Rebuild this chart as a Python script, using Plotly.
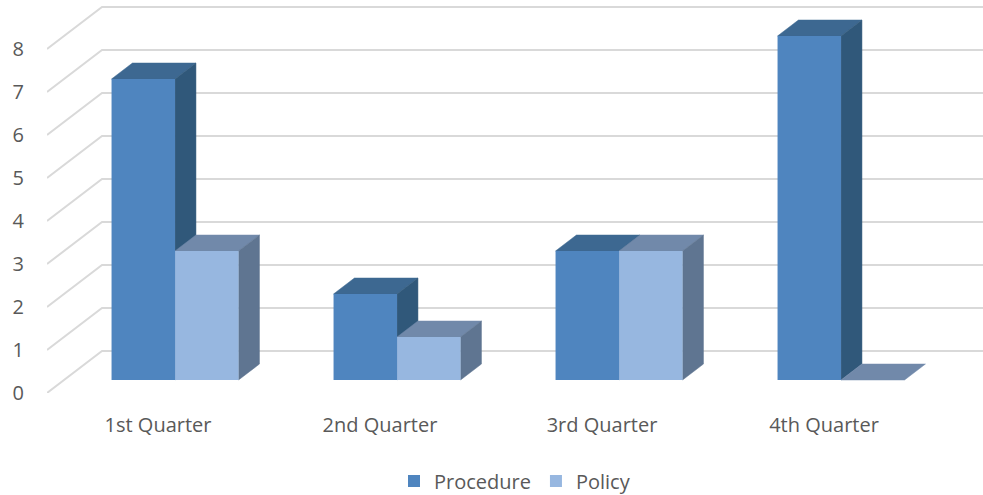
import plotly.graph_objects as go

categories = ["1st Quarter", "2nd Quarter", "3rd Quarter", "4th Quarter"]
procedure = [7, 2, 3, 8]
policy = [3, 1, 3, 0]
y_ticks = [0, 1, 2, 3, 4, 5, 6, 7, 8]

series = [
    ("Procedure", procedure, "#4F85BF", "#3D6891", "#30587A"),
    ("Policy", policy, "#97B7E0", "#7189AA", "#5F7591"),
]

# geometry of the pseudo-3D projection (data units)
W_PX, H_PX = 983, 495
ML, MB = 47, 102
PX_PER_CAT = 222.0
PX_PER_VAL = 43.0
DX = 55 / PX_PER_CAT      # full depth shift in category units
DY = 42 / PX_PER_VAL      # full depth shift in value units
D0, D1 = 0.31, 0.69       # bar depth span
BW = 63.5 / PX_PER_CAT    # bar width

x_min = -0.5
x_max = x_min + (W_PX - ML) / PX_PER_CAT
y_max = (H_PX - MB) / PX_PER_VAL

shapes = []
# wall/floor gridlines
for v in y_ticks:
    shapes.append(dict(type="path", xref="x", yref="y", layer="below",
                       path=f"M {x_min},{v} L {x_min + DX},{v + DY} L {x_max},{v + DY}",
                       line=dict(color="#D9D9D9", width=2)))

fig = go.Figure()
ddx, ddy = (D1 - D0) * DX, (D1 - D0) * DY
for i in range(len(categories)):
    for s, (name, vals, cf, ct, cs) in enumerate(series):
        v = vals[i]
        xl = i + D0 * DX + (s - 1) * BW
        xr = xl + BW
        b = D0 * DY
        top = b + v
        shapes.append(dict(type="path", xref="x", yref="y", layer="below",
                           path=f"M {xl},{top} L {xr},{top} L {xr + ddx},{top + ddy} L {xl + ddx},{top + ddy} Z",
                           fillcolor=ct, line=dict(color=ct, width=0.5)))
        if v > 0:
            shapes.append(dict(type="path", xref="x", yref="y", layer="below",
                               path=f"M {xr},{b} L {xr},{top} L {xr + ddx},{top + ddy} L {xr + ddx},{b + ddy} Z",
                               fillcolor=cs, line=dict(color=cs, width=0.5)))

for s, (name, vals, cf, ct, cs) in enumerate(series):
    fig.add_trace(go.Bar(
        name=name,
        x=[i + D0 * DX for i in range(len(categories))],
        y=vals,
        base=[D0 * DY] * len(vals),
        width=BW,
        offset=(s - 1) * BW,
        marker=dict(color=cf, line=dict(width=0)),
        hoverinfo="skip",
    ))

font_color = "#595959"
fig.update_layout(
    width=W_PX, height=H_PX,
    margin=dict(l=ML, r=0, t=0, b=MB, autoexpand=False),
    paper_bgcolor="white", plot_bgcolor="white",
    barmode="overlay",
    shapes=shapes,
    font=dict(family="Open Sans", size=20, color=font_color),
    showlegend=True,
    legend=dict(orientation="h", x=0.5, xanchor="center", y=-0.224, yanchor="middle",
                font=dict(size=20, color=font_color), itemwidth=30, traceorder="normal"),
    xaxis=dict(range=[x_min, x_max], showgrid=False, zeroline=False, showline=False,
               tickmode="array", tickvals=list(range(len(categories))), ticktext=categories,
               ticks="", ticklabelstandoff=18, fixedrange=True, automargin=False),
    yaxis=dict(range=[0, y_max], showgrid=False, zeroline=False, showline=False,
               tickmode="array", tickvals=y_ticks, ticktext=[str(t) for t in y_ticks],
               ticks="", ticklabelstandoff=22, fixedrange=True, automargin=False),
)

fig.write_html("out.html", config={"displayModeBar": False},
               post_script="document.body.style.margin='0';document.body.style.overflow='hidden';")
